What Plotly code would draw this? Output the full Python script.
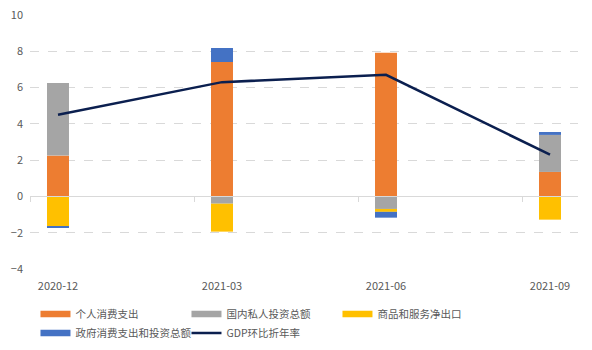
import plotly.graph_objects as go

categories = ["2020-12", "2021-03", "2021-06", "2021-09"]
consumption = [2.25, 7.41, 7.92, 1.35]
private_invest = [4.0, -0.40, -0.69, 2.04]
net_export = [-1.66, -1.54, -0.16, -1.28]
government = [-0.05, 0.77, -0.32, 0.16]
gdp = [4.5, 6.3, 6.7, 2.3]
y_ticks = [-4, -2, 0, 2, 4, 6, 8, 10]

names = ["个人消费支出", "国内私人投资总额", "商品和服务净出口", "政府消费支出和投资总额"]
colors = ["#ED7D31", "#A5A5A5", "#FFC000", "#4472C4"]
series = [consumption, private_invest, net_export, government]

xpos = list(range(len(categories)))
FONT = "Microsoft YaHei, Noto Sans CJK SC, sans-serif"

fig = go.Figure()
for n, c, s in zip(names, colors, series):
    fig.add_trace(go.Bar(x=xpos, y=s, name=n, marker=dict(color=c, line=dict(width=0)),
                         width=0.134, showlegend=False))
fig.add_trace(go.Scatter(x=xpos, y=gdp, mode="lines", name="GDP环比折年率", xaxis="x2",
                         line=dict(color="#0B1F4F", width=2.5), showlegend=False))

# legend entries
for n, c in zip(names, colors):
    fig.add_trace(go.Scatter(x=[None], y=[None], mode="lines", name=n,
                             line=dict(color=c, width=6.5)))
fig.add_trace(go.Scatter(x=[None], y=[None], mode="lines", name="GDP环比折年率",
                         line=dict(color="#0B1F4F", width=2.5)))

off = 28 / 164
fig.update_layout(
    width=592, height=350,
    margin=dict(l=30, r=14, t=15, b=81, autoexpand=False),
    plot_bgcolor="white", paper_bgcolor="white",
    barmode="relative",
    font=dict(family=FONT, size=11, color="#595959"),
    xaxis=dict(range=[-off, 3 + off], tickvals=xpos, ticktext=categories,
               showgrid=False, zeroline=False, showline=False, ticks="",
               ticklabelstandoff=9,
               tickfont=dict(size=11, color="#595959")),
    xaxis2=dict(overlaying="x", matches="x", anchor="free", position=4 / 14,
                showline=True, linecolor="#D9D9D9", linewidth=1,
                tickvals=[i - off for i in xpos], showticklabels=False,
                ticks="outside", ticklen=5, tickcolor="#D9D9D9", showgrid=False,
                zeroline=False),
    yaxis=dict(range=[-4, 10], tickvals=y_ticks, showgrid=True, gridcolor="#D9D9D9",
               griddash="dash", zeroline=True, zerolinecolor="#D9D9D9", zerolinewidth=1,
               showline=False, ticks="", ticklabelstandoff=6,
               tickfont=dict(size=11, color="#595959")),
    legend=dict(orientation="h", x=0.01, y=-0.12, xanchor="left", yanchor="top",
                entrywidth=106, entrywidthmode="pixels",
                font=dict(size=10.5, color="#595959", family=FONT),
                itemwidth=30, tracegroupgap=0, bgcolor="rgba(0,0,0,0)"),
)

fig.write_html("out.html")
